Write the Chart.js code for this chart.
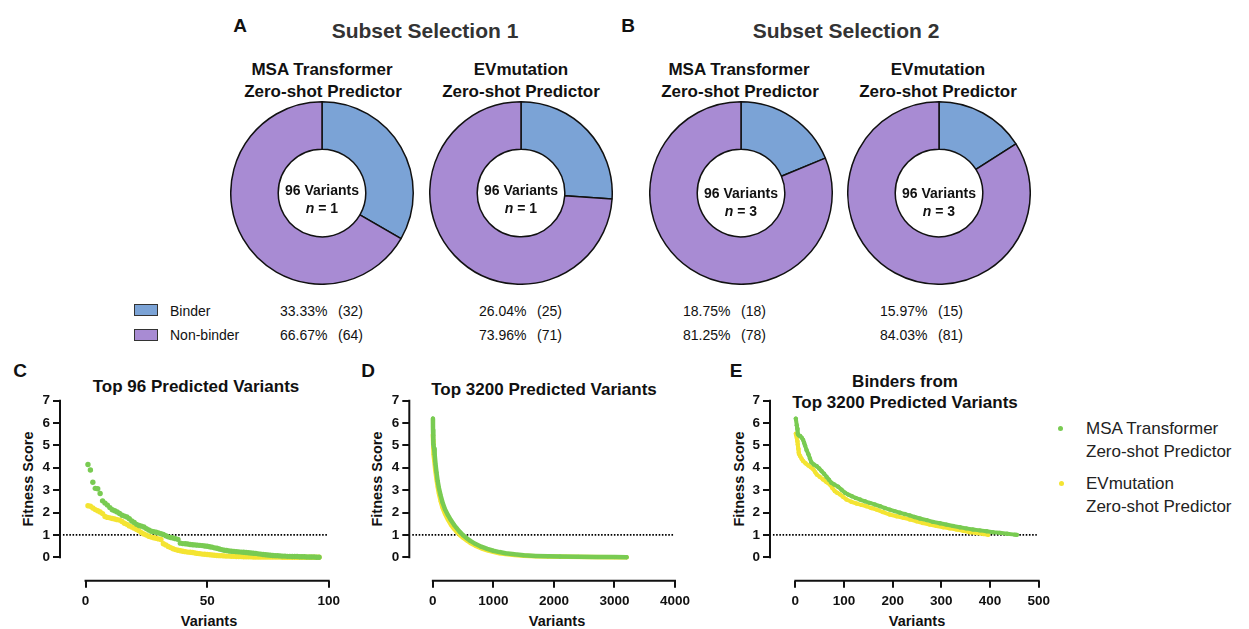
<!DOCTYPE html>
<html><head><meta charset="utf-8">
<script src="https://cdn.jsdelivr.net/npm/chart.js@4"></script>
<style>
body{margin:0;width:1249px;height:629px;background:#fff;position:relative;overflow:hidden;font-family:"Liberation Sans",Arial,Helvetica,sans-serif;color:#111}
.t{position:absolute;white-space:nowrap;transform:translate(-50%,-50%);line-height:1}
.l{position:absolute;white-space:nowrap;transform:translateY(-50%);line-height:1}
.b{font-weight:bold}
canvas{position:absolute}
.sq{position:absolute;width:22px;height:10px;border:1px solid #333}
.rot{transform:translate(-50%,-50%) rotate(-90deg)}
</style></head><body>

<div class="t b" style="left:240px;top:25px;font-size:19px">A</div>
<div class="t b" style="left:628px;top:25px;font-size:19px">B</div>
<div class="t b" style="left:425px;top:30px;font-size:21px;color:#333">Subset Selection 1</div>
<div class="t b" style="left:846px;top:30px;font-size:21px;color:#333">Subset Selection 2</div>

<div class="t b" style="left:322px;top:69px;font-size:17px">MSA Transformer</div>
<div class="t b" style="left:323px;top:91px;font-size:17px">Zero-shot Predictor</div>
<div class="t b" style="left:521px;top:69px;font-size:17px">EVmutation</div>
<div class="t b" style="left:521px;top:91px;font-size:17px">Zero-shot Predictor</div>
<div class="t b" style="left:739px;top:69px;font-size:17px">MSA Transformer</div>
<div class="t b" style="left:740px;top:91px;font-size:17px">Zero-shot Predictor</div>
<div class="t b" style="left:938px;top:69px;font-size:17px">EVmutation</div>
<div class="t b" style="left:938px;top:91px;font-size:17px">Zero-shot Predictor</div>

<canvas id="d1" width="184" height="184" style="left:230px;top:101px"></canvas>
<canvas id="d2" width="184" height="184" style="left:429px;top:101px"></canvas>
<canvas id="d3" width="184" height="184" style="left:649px;top:101px"></canvas>
<canvas id="d4" width="184" height="184" style="left:847px;top:101px"></canvas>

<div id="centers"></div>
<div id="rows"></div>

<div class="sq" style="left:134px;top:304px;background:#7BA3D6"></div>
<div class="sq" style="left:134px;top:329px;background:#A88BD3"></div>
<div class="l" style="left:170px;top:311px;font-size:14px">Binder</div>
<div class="l" style="left:170px;top:335px;font-size:14px">Non-binder</div>

<div class="t b" style="left:20px;top:370px;font-size:19px">C</div>
<div class="t b" style="left:368px;top:370px;font-size:19px">D</div>
<div class="t b" style="left:736px;top:370px;font-size:19px">E</div>

<div class="t b" style="left:196px;top:386px;font-size:17px">Top 96 Predicted Variants</div>
<div class="t b" style="left:544px;top:389px;font-size:17px">Top 3200 Predicted Variants</div>
<div class="t b" style="left:905px;top:381px;font-size:17px">Binders from</div>
<div class="t b" style="left:905px;top:402px;font-size:17px">Top 3200 Predicted Variants</div>

<div class="t b rot" style="left:28px;top:479px;font-size:14.5px">Fitness Score</div>
<div class="t b rot" style="left:377px;top:479px;font-size:14.5px">Fitness Score</div>
<div class="t b rot" style="left:739px;top:479px;font-size:14.5px">Fitness Score</div>
<div class="t b" style="left:209px;top:621px;font-size:14.5px">Variants</div>
<div class="t b" style="left:557px;top:621px;font-size:14.5px">Variants</div>
<div class="t b" style="left:917px;top:621px;font-size:14.5px">Variants</div>

<canvas id="c" width="345" height="249" style="left:0px;top:380px"></canvas>
<canvas id="d" width="345" height="249" style="left:350px;top:380px"></canvas>
<canvas id="e" width="345" height="249" style="left:710px;top:380px"></canvas>

<div style="position:absolute;left:1058px;top:426px;width:5px;height:5px;border-radius:50%;background:#79CB52"></div>
<div style="position:absolute;left:1059px;top:481px;width:5px;height:5px;border-radius:50%;background:#F4E432"></div>
<div class="l" style="left:1086px;top:428px;font-size:17px;color:#222">MSA Transformer</div>
<div class="l" style="left:1086px;top:451px;font-size:17px;color:#222">Zero-shot Predictor</div>
<div class="l" style="left:1086px;top:483px;font-size:17px;color:#222">EVmutation</div>
<div class="l" style="left:1086px;top:506px;font-size:17px;color:#222">Zero-shot Predictor</div>

<script>
// ---------- data ----------
const DONUT_CATS = ['Binder', 'Non-binder'];
const S1_MSA_PCT = [33.33, 66.67];
const S1_MSA_N   = [32, 64];
const S1_EV_PCT  = [26.04, 73.96];
const S1_EV_N    = [25, 71];
const S2_MSA_PCT = [18.75, 81.25];
const S2_MSA_N   = [18, 78];
const S2_EV_PCT  = [15.97, 84.03];
const S2_EV_N    = [15, 81];
const REPLICATES = [1, 1, 3, 3];

const Y_TICKS   = [0, 1, 2, 3, 4, 5, 6, 7];
const C_X_TICKS = [0, 50, 100];
const D_X_TICKS = [0, 1000, 2000, 3000, 4000];
const E_X_TICKS = [0, 100, 200, 300, 400, 500];
const THRESHOLD = 1;

// Panel C: top 96 predicted variants (rank 1..96)
const C_MSA = [4.15,3.90,3.35,3.08,3.06,2.85,2.52,2.42,2.33,2.22,2.12,2.08,2.02,1.96,1.88,1.84,1.80,1.72,1.62,1.55,
  1.47,1.42,1.39,1.35,1.28,1.22,1.16,1.14,1.12,1.09,1.05,1.02,0.96,0.91,0.88,0.86,0.83,0.80,0.63,0.61,
  0.60,0.59,0.57,0.56,0.55,0.54,0.53,0.52,0.50,0.49,0.47,0.45,0.42,0.40,0.37,0.34,0.31,0.30,0.28,0.27,
  0.26,0.25,0.24,0.23,0.22,0.21,0.20,0.19,0.18,0.17,0.15,0.14,0.12,0.11,0.10,0.09,0.08,0.07,0.07,0.06,
  0.05,0.05,0.04,0.04,0.03,0.03,0.03,0.02,0.02,0.02,0.01,0.01,0.01,0.01,0.00,0.00];
const C_EV = [2.30,2.28,2.20,2.13,2.08,2.02,1.95,1.82,1.78,1.76,1.73,1.71,1.68,1.66,1.60,1.52,1.47,1.40,1.35,1.30,
  1.24,1.18,1.10,1.04,0.99,0.94,0.90,0.87,0.85,0.82,0.79,0.60,0.55,0.48,0.43,0.38,0.34,0.31,0.29,0.27,
  0.25,0.23,0.22,0.21,0.19,0.17,0.16,0.14,0.13,0.12,0.11,0.10,0.09,0.08,0.07,0.07,0.06,0.05,0.05,0.04,
  0.04,0.03,0.03,0.03,0.02,0.02,0.02,0.02,0.01,0.01,0.01,0.01,0.01,0.01,0.01,0.01,0.01,0.01,0.01,0.01,
  0.00,0.00,0.00,0.00,0.00,0.00,0.00,0.00,0.00,0.00,0.00,0.00,0.00,0.00,0.00,0.00];

// Panel D: top 3200 predicted variants (rank, score)
const D_MSA_X = [1,2,3,5,8,12,20,30,45,60,80,100,130,160,200,250,300,350,400,450,500,560,620,700,800,900,1000,1100,1200,1350,1500,1700,1900,2100,2400,2700,3000,3200];
const D_MSA_Y = [6.19,5.84,5.70,5.45,5.25,5.05,4.85,4.60,4.15,3.80,3.40,3.10,2.75,2.45,2.15,1.88,1.65,1.45,1.28,1.12,0.98,0.85,0.73,0.60,0.47,0.37,0.29,0.23,0.18,0.13,0.09,0.06,0.04,0.03,0.02,0.01,0.01,0.00];
const D_EV_X  = [1,2,4,8,15,25,40,60,80,100,130,160,200,250,300,350,400,450,500,560,620,700,800,900,1000,1100,1200,1350,1500,1700,1900,2200,2600,3000,3200];
const D_EV_Y  = [5.48,5.40,5.20,4.90,4.60,4.30,3.90,3.50,3.15,2.85,2.50,2.22,1.95,1.68,1.45,1.27,1.12,0.98,0.87,0.75,0.64,0.52,0.40,0.31,0.24,0.18,0.14,0.10,0.07,0.04,0.03,0.02,0.01,0.00,0.00];

// Panel E: binders from top 3200 (rank, score)
const E_MSA_X = [1,3,4,5,7,10,13,16,18,20,23,27,30,33,38,44,49,54,59,64,69,74,80,88,95,102,109,116,124,133,143,153,163,174,184,194,204,215,225,235,245,256,270,283,297,310,324,338,351,365,379,393,406,420,435,451,455];
const E_MSA_Y = [6.20,5.90,5.75,5.52,5.45,5.42,5.35,5.25,5.12,5.00,4.80,4.60,4.42,4.25,4.15,4.07,3.97,3.85,3.73,3.60,3.47,3.33,3.25,3.15,3.02,2.88,2.80,2.73,2.65,2.58,2.50,2.43,2.36,2.28,2.20,2.13,2.06,1.99,1.93,1.87,1.80,1.73,1.66,1.58,1.52,1.46,1.40,1.34,1.29,1.24,1.20,1.16,1.12,1.09,1.05,1.01,1.00];
const E_EV_X  = [1,2,3,4,5,6,7,8,10,13,16,21,27,32,37,41,44,50,57,64,71,76,81,86,92,98,105,115,126,136,146,156,167,180,194,208,222,235,249,262,276,290,304,317,331,345,358,372,386,396];
const E_EV_Y  = [5.52,5.45,5.34,5.20,5.04,4.85,4.67,4.60,4.52,4.40,4.30,4.20,4.10,4.02,3.93,3.80,3.70,3.60,3.48,3.36,3.25,3.10,2.96,2.88,2.81,2.70,2.58,2.48,2.40,2.34,2.28,2.20,2.13,2.02,1.91,1.83,1.76,1.69,1.61,1.53,1.46,1.40,1.34,1.29,1.24,1.18,1.12,1.08,1.04,1.00];

// ---------- style ----------
const FONT = '"Liberation Sans", Arial, Helvetica, sans-serif';
const BLUE = '#7BA3D6', PURPLE = '#A88BD3';
const GREEN = '#79CB52', YELLOW = '#F4E432';
const INK = '#111';

// ---------- doughnuts ----------
const donuts = [
  ['d1', S1_MSA_PCT, S1_MSA_N, 322, 190],
  ['d2', S1_EV_PCT,  S1_EV_N,  521, 190],
  ['d3', S2_MSA_PCT, S2_MSA_N, 741, 193],
  ['d4', S2_EV_PCT,  S2_EV_N,  939, 193]
];
const rowX = [280, 479, 683, 880];
const rowY = [311, 335];
const centers = document.getElementById('centers');
const rows = document.getElementById('rows');
donuts.forEach(([id, pct, n, cx, cy], i) => {
  new Chart(document.getElementById(id), {
    type: 'doughnut',
    data: { labels: DONUT_CATS, datasets: [{ data: pct, backgroundColor: [BLUE, PURPLE], borderColor: INK, borderWidth: 1.5 }] },
    options: { responsive: false, animation: false, cutout: '48%', layout: { padding: 0 },
      plugins: { legend: { display: false }, tooltip: { enabled: false } } }
  });
  centers.insertAdjacentHTML('beforeend',
    `<div class="t b" style="left:${cx}px;top:${cy}px;font-size:14px">96 Variants</div>` +
    `<div class="t b" style="left:${cx}px;top:${cy + 18}px;font-size:14px"><i>n</i> = ${REPLICATES[i]}</div>`);
  pct.forEach((p, j) => {
    rows.insertAdjacentHTML('beforeend',
      `<div class="l" style="left:${rowX[i]}px;top:${rowY[j]}px;font-size:14px">${p.toFixed(2)}%</div>` +
      `<div class="l" style="left:${rowX[i] + 58}px;top:${rowY[j]}px;font-size:14px">(${n[j]})</div>`);
  });
});

// ---------- scatter panels ----------
const gpAxes = {
  id: 'gpAxes',
  beforeDatasetsDraw(chart, args, o) {
    const { ctx, chartArea: a, scales: { x, y } } = chart;
    ctx.save();
    ctx.strokeStyle = INK; ctx.lineWidth = 2;
    ctx.beginPath();
    ctx.moveTo(a.left, y.getPixelForValue(o.yMax) - 1);
    ctx.lineTo(a.left, y.getPixelForValue(0) + 1);
    ctx.moveTo(x.getPixelForValue(0) - 1, a.bottom);
    ctx.lineTo(x.getPixelForValue(o.xMax) + 1, a.bottom);
    ctx.stroke();
    ctx.restore();
  }
};

function pts(xs, ys) { return ys.map((v, i) => ({ x: xs[i], y: v })); }
function ranks(ys) { return ys.map((v, i) => ({ x: i + 1, y: v })); }

function scatter(id, cfg) {
  const tickFont = { family: FONT, size: 13.5, weight: 'bold' };
  new Chart(document.getElementById(id), {
    type: 'scatter',
    data: { datasets: [
      ...cfg.datasets,
      { data: [{ x: cfg.dot[0], y: THRESHOLD }, { x: cfg.dot[1], y: THRESHOLD }], showLine: true,
        borderColor: '#000', borderWidth: 1.6, borderDash: [1.6, 1.6], pointRadius: 0, order: 10 }
    ] },
    options: {
      responsive: false, animation: false,
      layout: { padding: { top: 20.7, right: cfg.right, bottom: 8.3, left: 0 } },
      plugins: { legend: { display: false }, tooltip: { enabled: false }, gpAxes: { yMax: 7, xMax: cfg.xTicks[cfg.xTicks.length - 1] } },
      scales: {
        x: { type: 'linear', min: cfg.xmin, max: cfg.xmax,
          afterBuildTicks: s => { s.ticks = cfg.xTicks.map(v => ({ value: v })); },
          afterFit: s => { s.height = 40; },
          border: { display: false },
          grid: { drawOnChartArea: false, drawTicks: true, tickLength: 7, color: INK, lineWidth: 2 },
          ticks: { color: INK, font: tickFont, padding: 5, maxRotation: 0, autoSkip: false, callback: v => String(v) } },
        y: { type: 'linear', min: -1.05, max: 7,
          afterBuildTicks: s => { s.ticks = Y_TICKS.map(v => ({ value: v })); },
          afterFit: s => { s.width = cfg.yw; },
          border: { display: false },
          grid: { drawOnChartArea: false, drawTicks: true, tickLength: 7, color: INK, lineWidth: 2 },
          ticks: { color: INK, font: tickFont, padding: 3, autoSkip: false, callback: v => String(v) } }
      }
    },
    plugins: [gpAxes]
  });
}

scatter('c', {
  xmin: -10.5, xmax: 100, xTicks: C_X_TICKS, yw: 60, right: 13, dot: [-9.3, 99.5],
  datasets: [
    { data: ranks(C_MSA), backgroundColor: GREEN, borderWidth: 0, pointRadius: 2.7, order: 0 },
    { data: ranks(C_EV), backgroundColor: YELLOW, borderWidth: 0, pointRadius: 2.7, order: 1 }
  ]
});
scatter('d', {
  xmin: -389, xmax: 4000, xTicks: D_X_TICKS, yw: 59.3, right: 15, dot: [-340, 3970],
  datasets: [
    { data: pts(D_MSA_X, D_MSA_Y), showLine: true, borderColor: GREEN, borderWidth: 4.5, borderCapStyle: 'round', borderJoinStyle: 'round', backgroundColor: GREEN, pointRadius: 2, pointBorderWidth: 0, order: 0 },
    { data: pts(D_EV_X, D_EV_Y), showLine: true, borderColor: YELLOW, borderWidth: 4.5, borderCapStyle: 'round', borderJoinStyle: 'round', backgroundColor: YELLOW, pointRadius: 2, pointBorderWidth: 0, order: 1 }
  ]
});
scatter('e', {
  xmin: -52, xmax: 500, xTicks: E_X_TICKS, yw: 60, right: 16, dot: [-46, 496],
  datasets: [
    { data: pts(E_MSA_X, E_MSA_Y), showLine: true, borderColor: GREEN, borderWidth: 4, borderCapStyle: 'round', borderJoinStyle: 'round', backgroundColor: GREEN, pointRadius: 2.2, pointBorderWidth: 0, order: 0 },
    { data: pts(E_EV_X, E_EV_Y), showLine: true, borderColor: YELLOW, borderWidth: 4, borderCapStyle: 'round', borderJoinStyle: 'round', backgroundColor: YELLOW, pointRadius: 2.2, pointBorderWidth: 0, order: 1 }
  ]
});
</script>
</body></html>
